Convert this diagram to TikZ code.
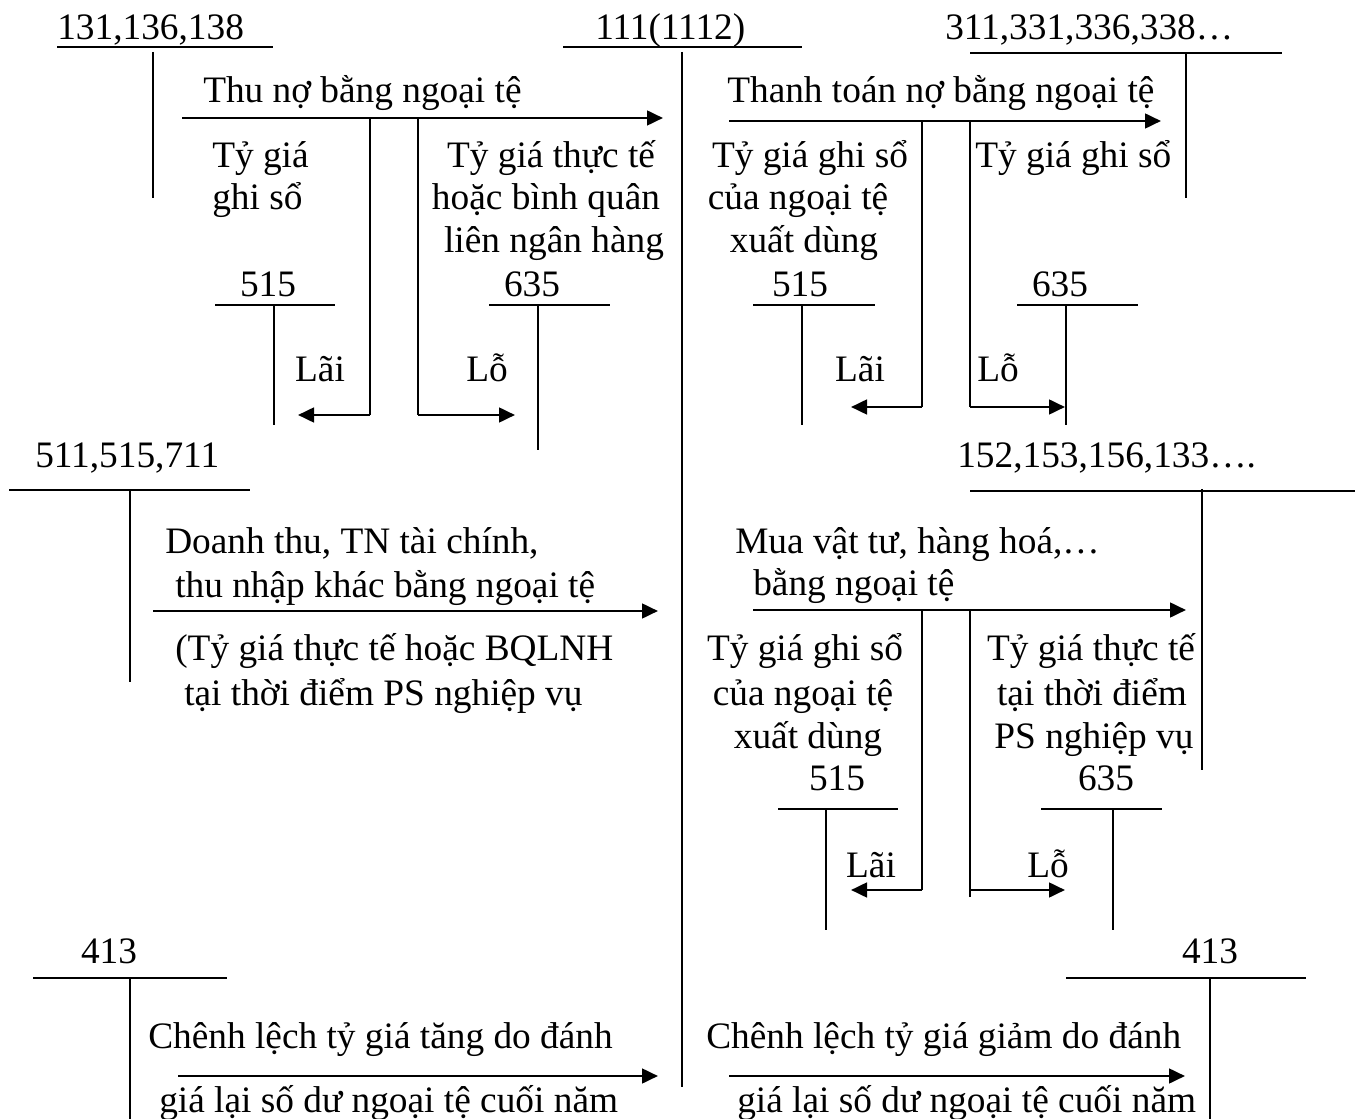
\documentclass[tikz,border=0pt]{standalone}
\usepackage{fontspec}
\setmainfont{Liberation Serif}
\usetikzlibrary{arrows.meta}
\begin{document}
\begin{tikzpicture}[x=0.75pt,y=-0.75pt,
  lbl/.style={inner sep=0pt, font=\fontsize{28}{32}\selectfont},
  acct/.style={line width=1.4pt},
  tline/.style={line width=1.3pt},
  flow/.style={line width=2pt, -{Triangle[length=12pt,width=11pt]}}]
\useasboundingbox[fill=white] (0,0) rectangle (1360,1119);

% ---------- account headers ----------
\node[lbl,anchor=base west] (a131) at (57,40) {131,136,138};
\draw[acct] (57,47) -- (273,47);  \draw[tline] (153,52) -- (153,198);
\node[lbl,anchor=base west] (a111) at (595,40) {111(1112)};
\draw[acct] (563,47) -- (802,47); \draw[tline] (682,52) -- (682,1087);
\node[lbl,anchor=base west] (a311) at (945,40) {311,331,336,338…};
\draw[acct] (970,53) -- (1282,53); \draw[tline] (1186,53) -- (1186,198);

% ---------- top left: Thu no ----------
\node[lbl,anchor=base west] (t1) at (203,103) {Thu nợ bằng ngoại tệ};
\coordinate (f1s) at (182,118); \coordinate (f1e) at (663,118);
\draw[flow] (f1s) -- (f1e);
\coordinate (b1a) at (370,118); \coordinate (b1ac) at (370,415); \coordinate (b1at) at (298,415);
\coordinate (b1b) at (418,118); \coordinate (b1bc) at (418,415); \coordinate (b1bt) at (515,415);
\draw[tline] (b1a) -- (b1ac); \draw[flow] (b1ac) -- (b1at);
\draw[tline] (b1b) -- (b1bc); \draw[flow] (b1bc) -- (b1bt);
\node[lbl,anchor=base west] (t1l1) at (212,168) {Tỷ giá};
\node[lbl,anchor=base west] (t1l2) at (212,210) {ghi sổ};
\node[lbl,anchor=base] (t1r1) at (551,168) {Tỷ giá thực tế};
\node[lbl,anchor=base] (t1r2) at (546,210) {hoặc bình quân};
\node[lbl,anchor=base] (t1r3) at (554,253) {liên ngân hàng};
\node[lbl,anchor=base] (a515a) at (268,297) {515};
\draw[acct] (215,305) -- (335,305); \draw[tline] (274,305) -- (274,425);
\node[lbl,anchor=base] (a635a) at (532,297) {635};
\draw[acct] (489,305) -- (610,305); \draw[tline] (538,305) -- (538,450);
\node[lbl,anchor=base] (lai1) at (320,382) {Lãi};
\node[lbl,anchor=base] (lo1) at (487,382) {Lỗ};

% ---------- top right: Thanh toan no ----------
\node[lbl,anchor=base west] (t2) at (727,103) {Thanh toán nợ bằng ngoại tệ};
\coordinate (f2s) at (729,121); \coordinate (f2e) at (1161,121);
\draw[flow] (f2s) -- (f2e);
\coordinate (b2a) at (922,121); \coordinate (b2ac) at (922,407); \coordinate (b2at) at (851,407);
\coordinate (b2b) at (970,121); \coordinate (b2bc) at (970,407); \coordinate (b2bt) at (1065,407);
\draw[tline] (b2a) -- (b2ac); \draw[flow] (b2ac) -- (b2at);
\draw[tline] (b2b) -- (b2bc); \draw[flow] (b2bc) -- (b2bt);
\node[lbl,anchor=base] (t2l1) at (810,168) {Tỷ giá ghi sổ};
\node[lbl,anchor=base] (t2l2) at (798,210) {của ngoại tệ};
\node[lbl,anchor=base] (t2l3) at (804,253) {xuất dùng};
\node[lbl,anchor=base west] (t2r1) at (975,168) {Tỷ giá ghi sổ};
\node[lbl,anchor=base] (a515b) at (800,297) {515};
\draw[acct] (753,305) -- (875,305); \draw[tline] (802,305) -- (802,425);
\node[lbl,anchor=base] (a635b) at (1060,297) {635};
\draw[acct] (1017,305) -- (1138,305); \draw[tline] (1066,305) -- (1066,425);
\node[lbl,anchor=base] (lai2) at (860,382) {Lãi};
\node[lbl,anchor=base] (lo2) at (998,382) {Lỗ};

% ---------- middle left: Doanh thu ----------
\node[lbl,anchor=base west] (a511) at (35,468) {511,515,711};
\draw[acct] (9,490) -- (250,490); \draw[tline] (130,490) -- (130,682);
\node[lbl,anchor=base west] (t3a) at (165,553) {Doanh thu, TN tài chính,};
\node[lbl,anchor=base west] (t3b) at (175,597) {thu nhập khác bằng ngoại tệ};
\coordinate (f3s) at (153,611); \coordinate (f3e) at (658,611);
\draw[flow] (f3s) -- (f3e);
\node[lbl,anchor=base west] (t3c) at (175,660) {(Tỷ giá thực tế hoặc BQLNH};
\node[lbl,anchor=base west] (t3d) at (184,705) {tại thời điểm PS nghiệp vụ};

% ---------- middle right: Mua vat tu ----------
\node[lbl,anchor=base west] (a152) at (957,468) {152,153,156,133….};
\draw[acct] (970,491) -- (1355,491); \draw[tline] (1202,489) -- (1202,770);
\node[lbl,anchor=base west] (t4a) at (735,553) {Mua vật tư, hàng hoá,…};
\node[lbl,anchor=base west] (t4b) at (753,595) {bằng ngoại tệ};
\coordinate (f4s) at (753,610); \coordinate (f4e) at (1186,610);
\draw[flow] (f4s) -- (f4e);
\coordinate (b4a) at (922,610); \coordinate (b4ac) at (922,890); \coordinate (b4at) at (851,890);
\coordinate (b4b) at (970,610); \coordinate (b4bc) at (970,890); \coordinate (b4bt) at (1065,890);
\draw[tline] (b4a) -- (b4ac); \draw[flow] (b4ac) -- (b4at);
\draw[tline] (970,897) -- (b4b); \draw[flow] (b4bc) -- (b4bt);
\node[lbl,anchor=base] (t4l1) at (805,660) {Tỷ giá ghi sổ};
\node[lbl,anchor=base] (t4l2) at (803,705) {của ngoại tệ};
\node[lbl,anchor=base] (t4l3) at (808,748) {xuất dùng};
\node[lbl,anchor=base] (t4r1) at (1091,660) {Tỷ giá thực tế};
\node[lbl,anchor=base] (t4r2) at (1092,705) {tại thời điểm};
\node[lbl,anchor=base] (t4r3) at (1094,748) {PS nghiệp vụ};
\node[lbl,anchor=base] (a515c) at (837,790) {515};
\draw[acct] (778,809) -- (898,809); \draw[tline] (826,809) -- (826,930);
\node[lbl,anchor=base] (a635c) at (1106,790) {635};
\draw[acct] (1041,809) -- (1162,809); \draw[tline] (1113,809) -- (1113,930);
\node[lbl,anchor=base] (lai3) at (871,877) {Lãi};
\node[lbl,anchor=base] (lo3) at (1048,877) {Lỗ};

% ---------- bottom: 413 ----------
\node[lbl,anchor=base] (a413a) at (109,963) {413};
\draw[acct] (33,978) -- (227,978); \draw[tline] (130,978) -- (130,1119);
\node[lbl,anchor=base west] (t5a) at (148,1048) {Chênh lệch tỷ giá tăng do đánh};
\coordinate (f5s) at (178,1076); \coordinate (f5e) at (658,1076);
\draw[flow] (f5s) -- (f5e);
\node[lbl,anchor=base west] (t5b) at (159,1112) {giá lại số dư ngoại tệ cuối năm};

\node[lbl,anchor=base] (a413b) at (1210,963) {413};
\draw[acct] (1066,978) -- (1306,978); \draw[tline] (1210,978) -- (1210,1119);
\node[lbl,anchor=base west] (t6a) at (706,1048) {Chênh lệch tỷ giá giảm do đánh};
\coordinate (f6s) at (729,1076); \coordinate (f6e) at (1185,1076);
\draw[flow] (f6s) -- (f6e);
\node[lbl,anchor=base west] (t6b) at (737,1112) {giá lại số dư ngoại tệ cuối năm};
\end{tikzpicture}
\end{document}
